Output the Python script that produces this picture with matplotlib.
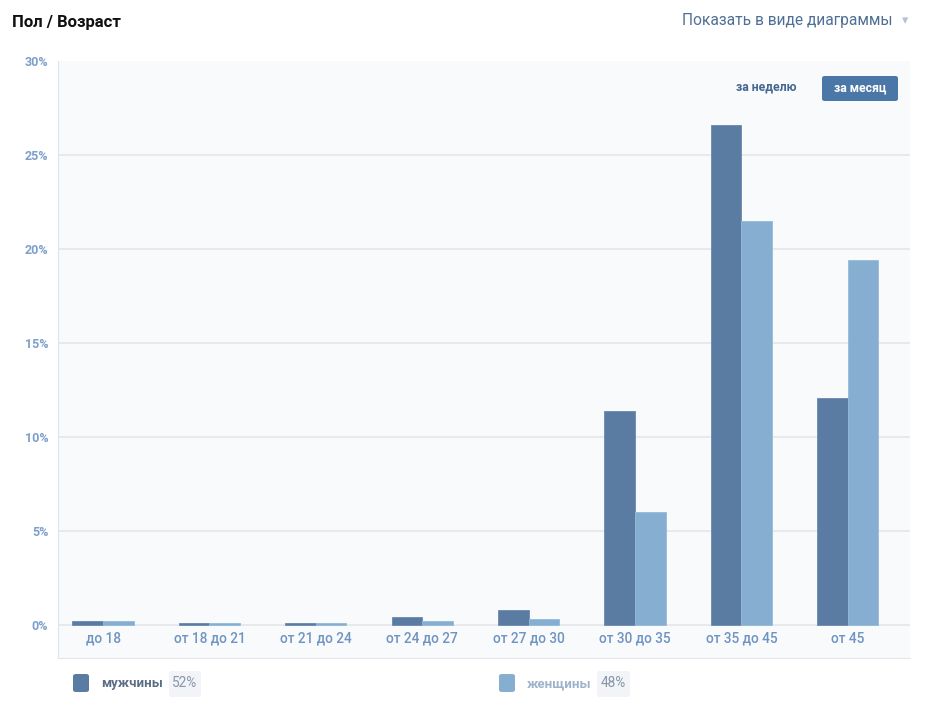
import numpy as np
import matplotlib.pyplot as plt
from matplotlib.patches import FancyBboxPatch

plt.rcParams['font.family'] = ['Roboto', 'DejaVu Sans']

# ----------------------------
# Данные
# ----------------------------
categories = ["до 18", "от 18 до 21", "от 21 до 24", "от 24 до 27",
              "от 27 до 30", "от 30 до 35", "от 35 до 45", "от 45"]
men = [0.2, 0.1, 0.1, 0.4, 0.8, 11.4, 26.6, 12.1]
women = [0.2, 0.1, 0.1, 0.2, 0.3, 6.0, 21.5, 19.4]
yticks = [0, 5, 10, 15, 20, 25, 30]
legend_names = ["мужчины", "женщины"]
legend_shares = ["52%", "48%"]

C_MEN = "#5a7ca3"
C_WOMEN = "#86aed1"
C_TICK = "#7d9fcb"

W, H = 927, 713


def fx(px):
    return px / W


def fy(py):
    return 1 - py / H


fig = plt.figure(figsize=(W / 100, H / 100), dpi=100)
ax = fig.add_axes([fx(58), fy(658), fx(910) - fx(58), fy(61) - fy(658)])
ax.set_facecolor("#f9fafc")

x = np.arange(len(categories))
bw = 0.287
ax.bar(x - bw / 2, men, bw, color=C_MEN, edgecolor="#6a8ab0", linewidth=0.6, zorder=3)
ax.bar(x + bw / 2, women, bw, color=C_WOMEN, edgecolor="#95badb", linewidth=0.6, zorder=3)

ax.set_xlim(-0.423, 7.585)
ax.set_ylim(-1.755, 30)

for v in yticks[:-1]:
    ax.axhline(v, color="#e6e8ec", linewidth=1.3, zorder=1)

ax.set_yticks(yticks)
ax.set_yticklabels([f"{v}%" for v in yticks], color=C_TICK, fontsize=9, fontweight="bold")
ax.tick_params(axis="y", length=0, pad=7)
ax.set_xticks([])

for s in ["top", "right"]:
    ax.spines[s].set_visible(False)
ax.spines["left"].set_color("#dfe3ea")
ax.spines["bottom"].set_color("#e3e6eb")

for i, lab in enumerate(categories):
    ax.text(i, -0.72, lab, ha="center", va="center", color="#6f93c2",
            fontsize=9.8, fontweight="medium")

# Заголовок и переключатели
fig.text(fx(12), fy(22), "Пол / Возраст", fontsize=12, fontweight="bold",
         color="#111111", va="center", ha="left")
fig.text(fx(892), fy(20), "Показать в виде диаграммы", fontsize=11.2,
         color="#4f6f95", va="center", ha="right")
fig.text(fx(905), fy(21), "▾", fontsize=9, color="#b8c2ce", va="center", ha="center")

fig.text(fx(766), fy(87), "за неделю", fontsize=8.8, fontweight="bold",
         color="#45678f", va="center", ha="center")
btn = FancyBboxPatch((fx(822), fy(101)), fx(898) - fx(822), fy(76) - fy(101),
                     boxstyle="round,pad=0,rounding_size=0.003",
                     transform=fig.transFigure, facecolor="#4a76a8",
                     edgecolor="none")
fig.patches.append(btn)
fig.text(fx(860), fy(88), "за месяц", fontsize=8.8, fontweight="bold",
         color="white", va="center", ha="center")

# Легенда
leg_pos = [(73, C_MEN, "#5b6e86", 169, 201), (499, C_WOMEN, "#9db3cc", 597, 630)]
for (sx, col, tcol, bx0, bx1), name, share in zip(leg_pos, legend_names, legend_shares):
    sq = FancyBboxPatch((fx(sx), fy(692)), fx(16), fx(18) * W / H,
                        boxstyle="round,pad=0,rounding_size=0.003",
                        transform=fig.transFigure, facecolor=col, edgecolor="none")
    fig.patches.append(sq)
    fig.text(fx(sx + 28), fy(684), name, fontsize=9.5, fontweight="bold",
             color=tcol, va="center", ha="left")
    box = FancyBboxPatch((fx(bx0), fy(697)), fx(bx1) - fx(bx0), fy(671) - fy(697),
                         boxstyle="round,pad=0,rounding_size=0.003",
                         transform=fig.transFigure, facecolor="#f2f4f7",
                         edgecolor="none")
    fig.patches.append(box)
    fig.text((fx(bx0) + fx(bx1)) / 2, fy(683), share, fontsize=9.8,
             color="#8796aa", va="center", ha="center")

fig.savefig("out.png", dpi=100)
